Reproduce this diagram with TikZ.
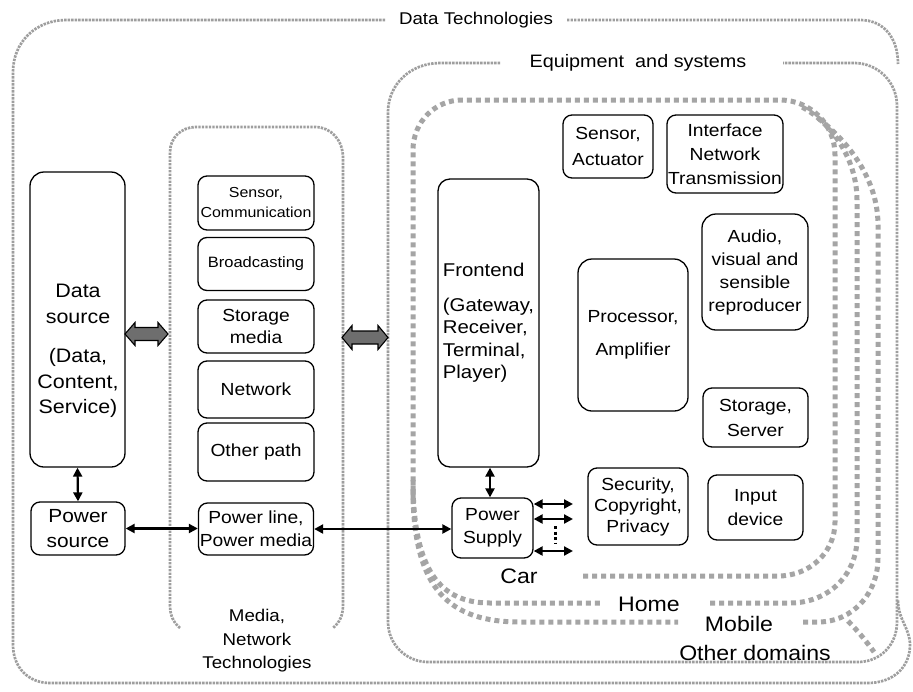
\documentclass[tikz,border=0pt]{standalone}
\usepackage{fontspec}
\setmainfont{Liberation Sans}[FakeStretch=1.1]
\usetikzlibrary{arrows.meta,calc}
\definecolor{fgray}{RGB}{158,158,158}
\definecolor{tgray}{RGB}{165,165,165}
\definecolor{agray}{RGB}{110,110,110}
\newcommand{\myfs}[2]{\fontsize{#1}{#2}\selectfont}
\begin{document}
\begin{tikzpicture}[x=1pt,y=-1pt,
  box/.style={draw, line width=1.3pt, rounded corners=9pt, align=center, inner sep=0pt},
  lbl/.style={align=center, inner sep=0pt},
  thinf/.style={draw=fgray, line width=2.7pt, dash pattern=on 2.4pt off 1.1pt},
  thickf/.style={draw=tgray, line width=5pt, dash pattern=on 5pt off 4pt},
  dbl/.style={line width=2.2pt, {Triangle[length=9pt,width=9pt]}-{Triangle[length=9pt,width=9pt]}},
  blkp/.style={draw=black, line width=1.1pt, fill=agray, line join=miter}
]
\fill[white] (0,0) rectangle (913,691);
\useasboundingbox (0,0) rectangle (913,691);

% ---------- frames ----------
% Data Technologies (outer)
\draw[thinf] (385,20) -- (66,20) .. controls (36,20) and (13,42) .. (13,72) -- (13,645)
  .. controls (13,667) and (28,683) .. (50,683) -- (868,683)
  .. controls (892,683) and (910,668) .. (910,645) .. controls (910,628) and (898,620) .. (898,600);
\draw[thinf] (567,20) -- (860,20) .. controls (884,20) and (898,38) .. (898,64);
% Equipment and systems
\draw[thinf] (500,63) -- (440,63) .. controls (410,63) and (388,85) .. (388,112) -- (388,622)
  .. controls (388,644) and (406,662) .. (428,662) -- (858,662)
  .. controls (880,662) and (897,645) .. (897,622) -- (897,106)
  .. controls (897,82) and (878,63) .. (854,63) -- (783,63);
% Media, Network Technologies
\draw[thinf] (180,628) .. controls (173,622) and (170,615) .. (170,605) -- (170,152)
  .. controls (170,138) and (181,127) .. (196,127) -- (315,127)
  .. controls (331,127) and (343,140) .. (343,158) -- (343,605)
  .. controls (343,615) and (340,622) .. (333,628);

% Car
\draw[thickf] (583,576) -- (778,576) .. controls (810,576) and (835,552) .. (835,522) -- (835,155)
  .. controls (835,124) and (810,100) .. (780,100) -- (462,100)
  .. controls (435,100) and (413,122) .. (413,150) -- (413,500);
% Home
\draw[thickf] (413,480) .. controls (413,570) and (440,603) .. (490,603) -- (600,603);
\draw[thickf] (710,603) -- (790,603) .. controls (828,603) and (857,575) .. (857,538) -- (857,200)
  .. controls (857,160) and (832,122) .. (800,106);
% Mobile
\draw[thickf] (413,490) .. controls (413,590) and (450,622) .. (520,622) -- (678,622);
\draw[thickf] (803,622) -- (818,622) .. controls (852,622) and (878,594) .. (878,558) -- (878,225)
  .. controls (878,182) and (852,145) .. (818,118);
% Other domains
\draw[thickf] (848,621) .. controls (858,631) and (866,641) .. (874,652);

% ---------- frame labels ----------
\node[lbl, font=\myfs{17}{20}] (tdt) at (476,20) {Data Technologies};
\node[lbl, font=\myfs{18}{20}] (teq) at (638,63) {Equipment\ \ and systems};
\node[lbl, font=\myfs{17}{23.5}] (tmn) at (257,641) {Media,\\Network\\Technologies};
\node[lbl, font=\myfs{21}{24}] (tcar) at (519,576) {Car};
\node[lbl, font=\myfs{21}{24}] (thome) at (649,604) {Home};
\node[lbl, font=\myfs{21}{24}] (tmob) at (739,624) {Mobile};
\node[lbl, font=\myfs{21}{24}] (toth) at (755,653) {Other domains};

% ---------- left column ----------
\node[box, minimum width=95pt, minimum height=295pt, rounded corners=14pt] (ds) at (77.5,319.5) {};
\node[lbl, font=\myfs{19.5}{25.5}] (dst) at (78,351) {Data\\source\\[14pt](Data,\\Content,\\Service)};
\node[box, font=\myfs{19}{25}, minimum width=94pt, minimum height=53pt] (ps) at (78,528.5) {Power\\source};

% ---------- media column ----------
\node[box, font=\myfs{14.5}{20}, minimum width=116pt, minimum height=54pt] (m1) at (256,203) {Sensor,\\Communication};
\node[box, font=\myfs{15}{20}, minimum width=116pt, minimum height=53pt] (m2) at (256,264) {Broadcasting};
\node[box, font=\myfs{17.5}{21.5}, minimum width=116pt, minimum height=53pt] (m3) at (256,326.5) {Storage\\media};
\node[box, font=\myfs{17.5}{21}, minimum width=116pt, minimum height=57pt] (m4) at (256,389.5) {Network};
\node[box, font=\myfs{17.5}{21}, minimum width=116pt, minimum height=58pt] (m5) at (256,452) {Other path};
\node[box, font=\myfs{17.5}{23}, minimum width=115pt, minimum height=52pt] (pl) at (256,529) {Power line,\\Power media};

% ---------- equipment ----------
\node[box, font=\myfs{18.5}{22.5}, minimum width=101pt, minimum height=288pt, rounded corners=12pt, align=left] (fe) at (488.5,323)
  {Frontend\\[12pt](Gateway,\\Receiver,\\Terminal,\\Player)};
\node[box, font=\myfs{17.5}{23}, minimum width=110pt, minimum height=152pt, rounded corners=14pt] (pa) at (633,335)
  {Processor,\\[10pt]Amplifier};
\node[box, font=\myfs{17.5}{26}, minimum width=90pt, minimum height=63pt] (sa) at (608,146.5) {Sensor,\\Actuator};
\node[box, font=\myfs{17.5}{24}, minimum width=116pt, minimum height=78pt] (inf) at (725,154) {Interface\\Network\\Transmission};
\node[box, font=\myfs{17.5}{23}, minimum width=106pt, minimum height=116pt, rounded corners=14pt] (av) at (755,272)
  {Audio,\\visual and\\sensible\\reproducer};
\node[box, font=\myfs{17.5}{25}, minimum width=105pt, minimum height=59pt] (ss) at (755.5,417.5) {Storage,\\Server};
\node[box, font=\myfs{17.5}{21}, minimum width=100pt, minimum height=77pt] (sec) at (638,506.5) {Security,\\Copyright,\\Privacy};
\node[box, font=\myfs{17.5}{24}, minimum width=95pt, minimum height=65pt] (inp) at (755.5,507.5) {Input\\device};
\node[box, font=\myfs{17.5}{23}, minimum width=81pt, minimum height=60pt] (psu) at (492.5,528) {Power\\Supply};

% ---------- block arrows ----------
\coordinate (ba1) at (146.5,334);
\coordinate (ba2) at (365,337.5);
\draw[blkp] ($(ba1)+(-21.5,0)$) -- ++(10,-11.5) -- ++(0,5) -- ++(23,0) -- ++(0,-5) -- ++(10,11.5)
  -- ++(-10,11.5) -- ++(0,-5) -- ++(-23,0) -- ++(0,5) -- cycle;
\draw[blkp] ($(ba2)+(-23,0)$) -- ++(10,-12) -- ++(0,5.5) -- ++(26,0) -- ++(0,-5.5) -- ++(10,12)
  -- ++(-10,12) -- ++(0,-5.5) -- ++(-26,0) -- ++(0,5.5) -- cycle;

% ---------- connectors ----------
\draw[dbl] (ds.south) -- (ps.north);
\draw[dbl] (ps.east) -- (ps.east -| pl.west);
\draw[dbl] (pl.east) -- (pl.east -| psu.west);
\coordinate (fx) at (490,0);
\draw[dbl] (fe.south -| fx) -- (psu.north -| fx);
\coordinate (e1) at (573,504);
\coordinate (e2) at (573,519);
\coordinate (e3) at (573,551);
\draw[dbl] (psu.east |- e1) -- (e1);
\draw[dbl] (psu.east |- e2) -- (e2);
\draw[dbl] (psu.east |- e3) -- (e3);
\coordinate (d1) at (555,526);
\coordinate (d2) at (555,544);
\draw[line width=3pt, dash pattern=on 3pt off 2.5pt] (d1) -- (d2);
\end{tikzpicture}
\end{document}
